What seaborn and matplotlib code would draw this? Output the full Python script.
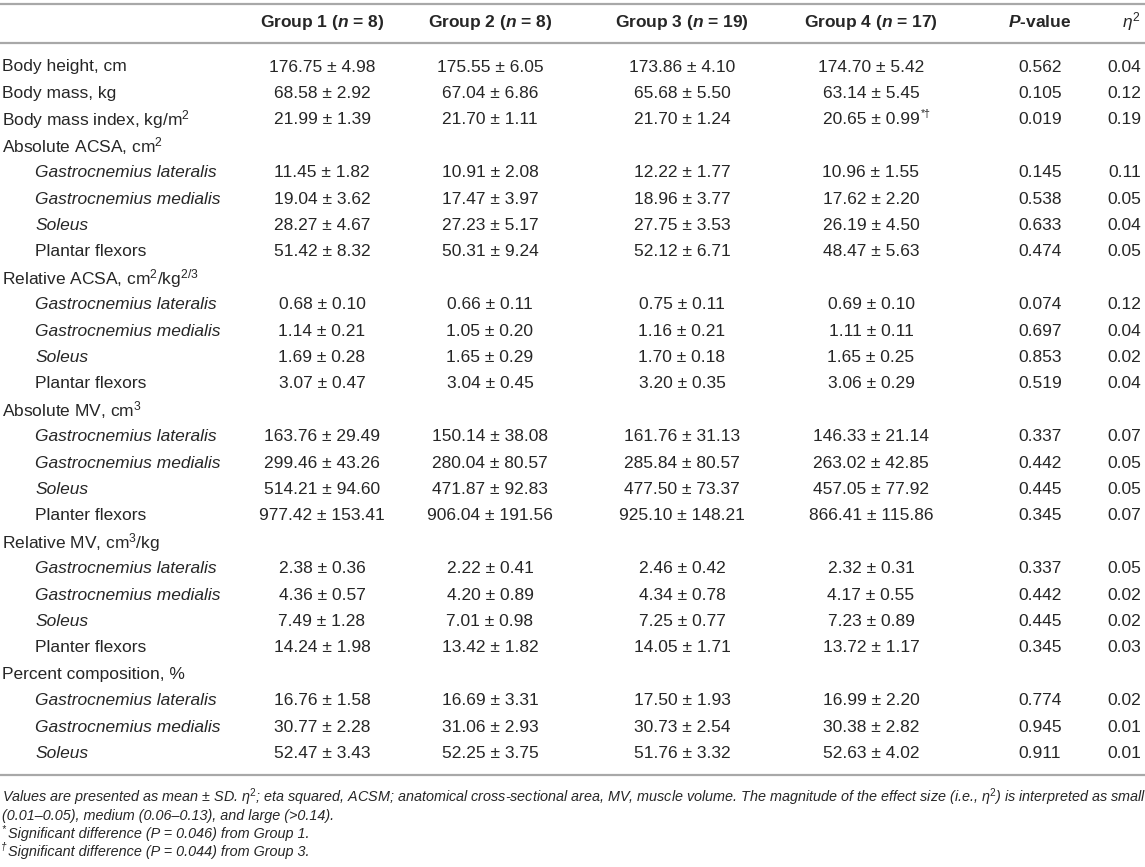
import matplotlib.pyplot as plt
import seaborn as sns

# table content
group_names = ["Group 1", "Group 2", "Group 3", "Group 4"]
group_n = [8, 8, 19, 17]

row_labels = [
    "Body height, cm", "Body mass, kg", "Body mass index, kg/m$^{2}$",
    "Absolute ACSA, cm$^{2}$",
    "Gastrocnemius lateralis", "Gastrocnemius medialis", "Soleus", "Plantar flexors",
    "Relative ACSA, cm$^{2}$/kg$^{2/3}$",
    "Gastrocnemius lateralis", "Gastrocnemius medialis", "Soleus", "Plantar flexors",
    "Absolute MV, cm$^{3}$",
    "Gastrocnemius lateralis", "Gastrocnemius medialis", "Soleus", "Planter flexors",
    "Relative MV, cm$^{3}$/kg",
    "Gastrocnemius lateralis", "Gastrocnemius medialis", "Soleus", "Planter flexors",
    "Percent composition, %",
    "Gastrocnemius lateralis", "Gastrocnemius medialis", "Soleus",
]
# 0 = top level, 1 = indented italic muscle, 2 = indented upright
row_level = [0, 0, 0,
             0, 1, 1, 1, 2,
             0, 1, 1, 1, 2,
             0, 1, 1, 1, 2,
             0, 1, 1, 1, 2,
             0, 1, 1, 1]

g1_mean = [176.75, 68.58, 21.99, None, 11.45, 19.04, 28.27, 51.42, None, 0.68, 1.14, 1.69, 3.07,
           None, 163.76, 299.46, 514.21, 977.42, None, 2.38, 4.36, 7.49, 14.24, None, 16.76, 30.77, 52.47]
g1_sd = [4.98, 2.92, 1.39, None, 1.82, 3.62, 4.67, 8.32, None, 0.10, 0.21, 0.28, 0.47,
         None, 29.49, 43.26, 94.60, 153.41, None, 0.36, 0.57, 1.28, 1.98, None, 1.58, 2.28, 3.43]
g2_mean = [175.55, 67.04, 21.70, None, 10.91, 17.47, 27.23, 50.31, None, 0.66, 1.05, 1.65, 3.04,
           None, 150.14, 280.04, 471.87, 906.04, None, 2.22, 4.20, 7.01, 13.42, None, 16.69, 31.06, 52.25]
g2_sd = [6.05, 6.86, 1.11, None, 2.08, 3.97, 5.17, 9.24, None, 0.11, 0.20, 0.29, 0.45,
         None, 38.08, 80.57, 92.83, 191.56, None, 0.41, 0.89, 0.98, 1.82, None, 3.31, 2.93, 3.75]
g3_mean = [173.86, 65.68, 21.70, None, 12.22, 18.96, 27.75, 52.12, None, 0.75, 1.16, 1.70, 3.20,
           None, 161.76, 285.84, 477.50, 925.10, None, 2.46, 4.34, 7.25, 14.05, None, 17.50, 30.73, 51.76]
g3_sd = [4.10, 5.50, 1.24, None, 1.77, 3.77, 3.53, 6.71, None, 0.11, 0.21, 0.18, 0.35,
         None, 31.13, 80.57, 73.37, 148.21, None, 0.42, 0.78, 0.77, 1.71, None, 1.93, 2.54, 3.32]
g4_mean = [174.70, 63.14, 20.65, None, 10.96, 17.62, 26.19, 48.47, None, 0.69, 1.11, 1.65, 3.06,
           None, 146.33, 263.02, 457.05, 866.41, None, 2.32, 4.17, 7.23, 13.72, None, 16.99, 30.38, 52.63]
g4_sd = [5.42, 5.45, 0.99, None, 1.55, 2.20, 4.50, 5.63, None, 0.10, 0.11, 0.25, 0.29,
         None, 21.14, 42.85, 77.92, 115.86, None, 0.31, 0.55, 0.89, 1.17, None, 2.20, 2.82, 4.02]
g4_marks = ["", "", "*†"] + [""] * 24

p_values = [0.562, 0.105, 0.019, None, 0.145, 0.538, 0.633, 0.474, None, 0.074, 0.697, 0.853, 0.519,
            None, 0.337, 0.442, 0.445, 0.345, None, 0.337, 0.442, 0.445, 0.345, None, 0.774, 0.945, 0.911]
eta_sq = [0.04, 0.12, 0.19, None, 0.11, 0.05, 0.04, 0.05, None, 0.12, 0.04, 0.02, 0.04,
          None, 0.07, 0.05, 0.05, 0.07, None, 0.05, 0.02, 0.02, 0.03, None, 0.02, 0.01, 0.01]

footnotes = [
    "Values are presented as mean ± SD. η$^{2}$; eta squared, ACSM; anatomical cross-sectional area, "
    "MV, muscle volume. The magnitude of the effect size (i.e., η$^{2}$) is interpreted as small",
    "(0.01–0.05), medium (0.06–0.13), and large (>0.14).",
    "Significant difference (P = 0.046) from Group 1.",
    "Significant difference (P = 0.044) from Group 3.",
]
footnote_marks = ["", "", "*", "†"]

sns.set_theme(style="white")
plt.rcParams['font.family'] = ['Liberation Sans', 'DejaVu Sans']
plt.rcParams['mathtext.fontset'] = 'custom'
plt.rcParams['mathtext.rm'] = 'Liberation Sans'
plt.rcParams['mathtext.it'] = 'Liberation Sans:italic'
plt.rcParams['mathtext.bf'] = 'Liberation Sans:bold'
plt.rcParams['mathtext.bfit'] = 'Liberation Sans:italic:bold'

TXT = '#262626'
RULE = '#a8a8a8'
FS = 12.5
FS_NOTE = 10.35

fig = plt.figure(figsize=(11.45, 8.67), dpi=100)
ax = fig.add_axes([0, 0, 1, 1])
ax.set_xlim(0, 1145)
ax.set_ylim(867, 0)
ax.axis('off')

col_x = [322, 490, 682, 871, 1040]
eta_x = 1141
y_head = 22
y0 = 67
dy = 26.4

# rules
for yy in [4, 43, y0 + dy * (len(row_labels) - 1) + 22]:
    ax.axhline(yy, color=RULE, lw=1.6)

# header
for x, g, n in zip(col_x, group_names, group_n):
    ax.text(x, y_head, f"{g} ($\\mathbfit{{n}}$ = {n})", ha='center', va='center',
            fontsize=FS, fontweight='bold', color=TXT)
ax.text(col_x[4], y_head, "$\\mathbfit{P}$-value", ha='center', va='center',
        fontsize=FS, fontweight='bold', color=TXT)
ax.text(eta_x, y_head, "$\\mathit{\\eta}^{2}$", ha='right', va='center',
        fontsize=FS, color=TXT)

# body
means = [g1_mean, g2_mean, g3_mean, g4_mean]
sds = [g1_sd, g2_sd, g3_sd, g4_sd]
for i, label in enumerate(row_labels):
    y = y0 + i * dy
    lvl = row_level[i]
    ax.text(2 if lvl == 0 else 35, y, label, ha='left', va='center', fontsize=FS,
            fontstyle='italic' if lvl == 1 else 'normal', color=TXT)
    if g1_mean[i] is None:
        continue
    for k in range(4):
        s = f"{means[k][i]:.2f} ± {sds[k][i]:.2f}"
        ax.text(col_x[k], y, s, ha='center', va='center', fontsize=FS, color=TXT)
        if k == 3 and g4_marks[i]:
            ax.text(col_x[k] + 50, y - 6, g4_marks[i], ha='left', va='center',
                    fontsize=FS * 0.6, color=TXT)
    ax.text(col_x[4], y, f"{p_values[i]:.3f}", ha='center', va='center', fontsize=FS, color=TXT)
    ax.text(eta_x, y, f"{eta_sq[i]:.2f}", ha='right', va='center', fontsize=FS, color=TXT)

# footnotes
fy = [797, 816, 834, 852]
for y, t, m in zip(fy, footnotes, footnote_marks):
    x = 2
    if m:
        ax.text(1, y - 5, m, ha='left', va='center', fontsize=FS_NOTE * 0.7,
                fontstyle='italic', color=TXT)
        x = 8
    ax.text(x, y, t, ha='left', va='center', fontsize=FS_NOTE, fontstyle='italic', color=TXT)

fig.savefig("out.png", dpi=100)
